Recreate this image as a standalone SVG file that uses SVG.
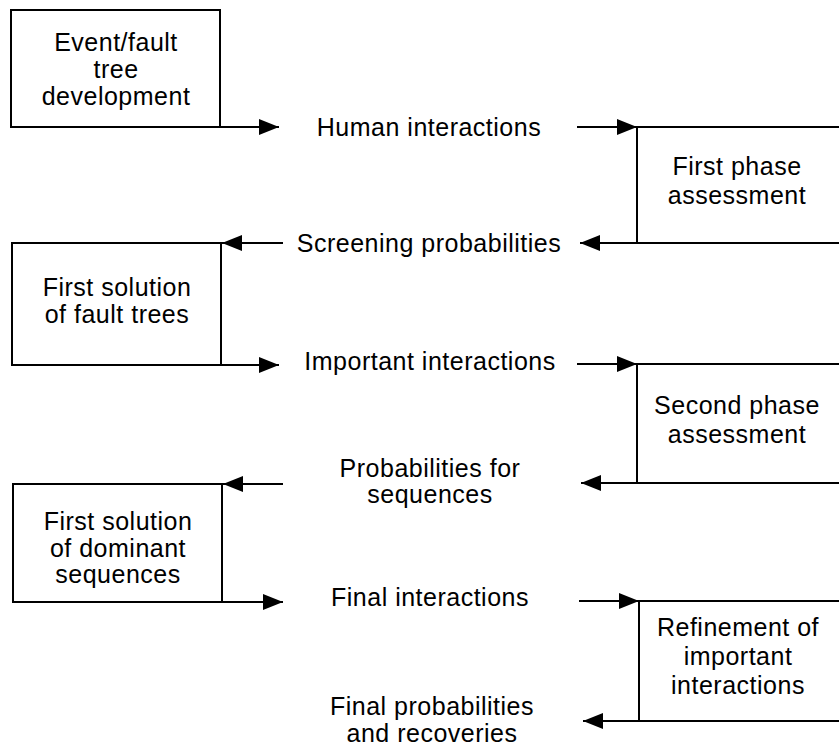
<svg xmlns="http://www.w3.org/2000/svg" width="839" height="750" viewBox="0 0 839 750">
  <style>
    .box { fill: #fff; stroke: #000; stroke-width: 2; }
    .wire { fill: none; stroke: #000; stroke-width: 2; }
    text { font-family: "Liberation Sans", Arial, Helvetica, sans-serif; font-size: 25px; letter-spacing: 0.5px; fill: #000; text-anchor: middle; }
  </style>
  <defs>
    <marker id="head" markerUnits="userSpaceOnUse" markerWidth="20" markerHeight="16" refX="20" refY="8" orient="auto">
      <path d="M0,0 L20,8 L0,16 z" fill="#000"/>
    </marker>
  </defs>
  <rect width="839" height="750" fill="#fff"/>

  <!-- left column: analysis steps -->
  <g id="event-fault-tree">
    <rect class="box" x="11" y="10" width="209" height="117"/>
    <text x="116" y="51">Event/fault</text>
    <text x="116" y="78">tree</text>
    <text x="116" y="105">development</text>
  </g>
  <g id="first-solution-fault-trees">
    <rect class="box" x="12" y="243" width="209" height="122"/>
    <text x="117" y="296">First solution</text>
    <text x="117" y="323">of fault trees</text>
  </g>
  <g id="first-solution-dominant">
    <rect class="box" x="13" y="484" width="209" height="118"/>
    <text x="118" y="530">First solution</text>
    <text x="118" y="557">of dominant</text>
    <text x="118" y="583">sequences</text>
  </g>

  <!-- right column: assessment phases (open at the right edge) -->
  <g id="first-phase">
    <rect class="box" x="637" y="127" width="210" height="116"/>
    <text x="737" y="175">First phase</text>
    <text x="737" y="204">assessment</text>
  </g>
  <g id="second-phase">
    <rect class="box" x="637" y="364" width="210" height="119"/>
    <text x="737" y="414">Second phase</text>
    <text x="737" y="443">assessment</text>
  </g>
  <g id="refinement">
    <rect class="box" x="639" y="601" width="210" height="120"/>
    <text x="738" y="636">Refinement of</text>
    <text x="738" y="665">important</text>
    <text x="738" y="694">interactions</text>
  </g>

  <!-- middle column: exchanged quantities -->
  <g id="human-interactions"><text x="429" y="136">Human interactions</text></g>
  <g id="screening-probabilities"><text x="429" y="252">Screening probabilities</text></g>
  <g id="important-interactions"><text x="430" y="370">Important interactions</text></g>
  <g id="probabilities-sequences">
    <text x="430" y="477">Probabilities for</text>
    <text x="430" y="503">sequences</text>
  </g>
  <g id="final-interactions"><text x="430" y="606">Final interactions</text></g>
  <g id="final-probabilities">
    <text x="432" y="715">Final probabilities</text>
    <text x="432" y="742">and recoveries</text>
  </g>

  <!-- connectors -->
  <g id="connectors">
    <line class="wire" x1="220" y1="127" x2="279" y2="127" marker-end="url(#head)"/>
    <line class="wire" x1="577" y1="127" x2="637" y2="127" marker-end="url(#head)"/>
    <line class="wire" x1="637" y1="243" x2="580" y2="243" marker-end="url(#head)"/>
    <line class="wire" x1="283" y1="243" x2="222" y2="243" marker-end="url(#head)"/>
    <line class="wire" x1="221" y1="365" x2="279" y2="365" marker-end="url(#head)"/>
    <line class="wire" x1="577" y1="364" x2="637" y2="364" marker-end="url(#head)"/>
    <line class="wire" x1="637" y1="483" x2="581" y2="483" marker-end="url(#head)"/>
    <line class="wire" x1="283" y1="484" x2="223" y2="484" marker-end="url(#head)"/>
    <line class="wire" x1="222" y1="602" x2="283" y2="602" marker-end="url(#head)"/>
    <line class="wire" x1="579" y1="601" x2="639" y2="601" marker-end="url(#head)"/>
    <line class="wire" x1="639" y1="721" x2="583" y2="721" marker-end="url(#head)"/>
  </g>
</svg>
